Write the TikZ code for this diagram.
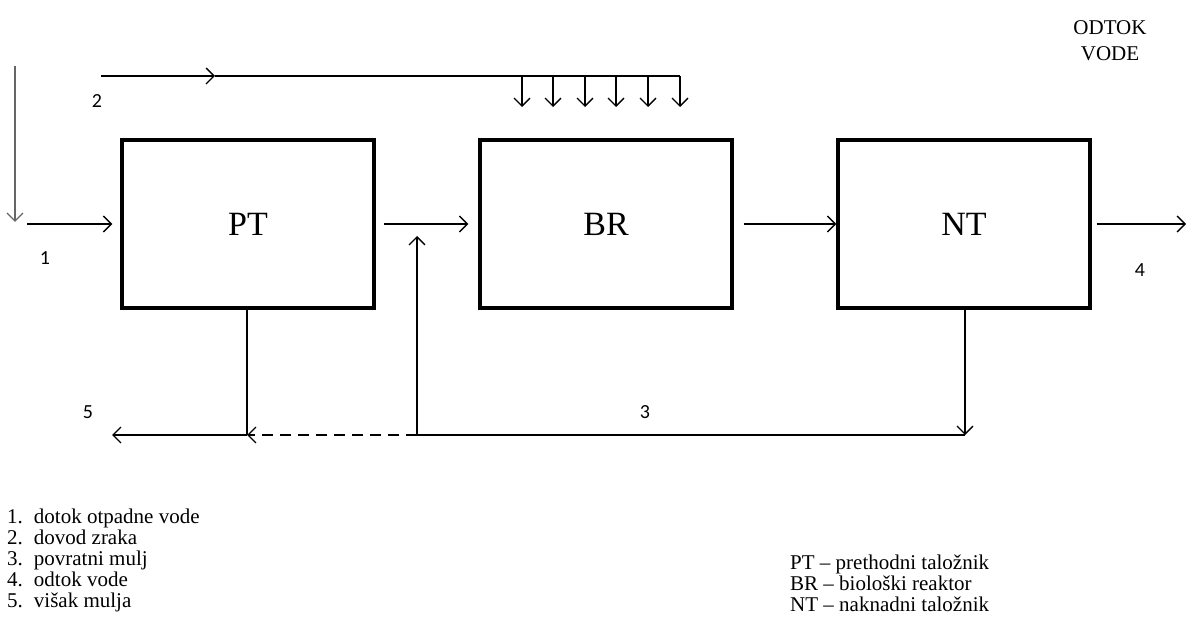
\documentclass[tikz,border=0pt]{standalone}
\usepackage{fontspec}
\setmainfont{Liberation Serif}
\newfontfamily\numfont{Carlito}
\usetikzlibrary{arrows.meta}

\begin{document}
\begin{tikzpicture}[x=1pt,y=-1pt,>={Straight Barb[length=8pt,width=16pt]},
  unit/.style={draw,line width=3.4pt,minimum width=252pt,minimum height=168pt,
    inner sep=0pt,font=\fontsize{34}{34}\selectfont},
  flow/.style={line width=1.3pt},
  num/.style={font=\numfont\fontsize{20}{20}\selectfont}]
  \useasboundingbox (0,0) rectangle (1186,636);
  % process units
  \node[unit] (PT) at (248,224) {PT};
  \node[unit] (BR) at (606,224) {BR};
  \node[unit] (NT) at (964,224) {NT};
  % free ends
  \coordinate (top) at (15,66);
  \coordinate (in) at (27,224);
  \coordinate (air) at (101,76);
  \coordinate (airmid) at (215,76);
  \coordinate (airend) at (680,76);
  \coordinate (mix) at (384,224);
  \coordinate (back) at (417,435);
  \coordinate (out) at (1186,224);
  \coordinate (PTdown) at (247,435);
  \coordinate (NTdown) at (965,435);
  \coordinate (waste) at (112,435);
  % inflow
  \draw[->,flow,gray!80!black] (top)--(15,222);
  \draw[->,flow] (in)--([xshift=-8pt]PT.west);
  % air supply
  \draw[->,flow] (air)--(airmid);
  \draw[flow] (airmid)--(airend);
  \foreach \x in {522,553,585,616,648,680}
    \draw[->,flow] (\x,76)--(\x,107);
  % main line
  \draw[->,flow] (mix)--([xshift=-10pt]BR.west);
  \draw[->,flow] ([xshift=10pt]BR.east)--(NT.west);
  \draw[->,flow] ([xshift=5pt]NT.east)--(out);
  % return sludge
  \draw[->,flow] (NT.south -| NTdown)--(NTdown);
  \draw[flow] (NTdown)--(back);
  \draw[->,flow] (back)--(417,236);
  % excess sludge
  \draw[flow] (PT.south -| PTdown)--(PTdown);
  \draw[->,flow,dash pattern=on 11pt off 7pt] (back)--(PTdown);
  \draw[->,flow] (PTdown)--(waste);
  % labels
  \node[num] (l1) at (45,258) {1};
  \node[num] (l2) at (97,101) {2};
  \node[num] (l3) at (645,412) {3};
  \node[num] (l4) at (1140,270) {4};
  \node[num] (l5) at (88,412) {5};
  \node[font=\fontsize{21}{26}\selectfont,align=center] (odtok) at (1110,41) {ODTOK\\VODE};
  % legends
  \node[anchor=north west,inner sep=0pt,font=\fontsize{21}{21}\selectfont] (leg) at (7,509)
    {\begin{tabular}{@{}l@{\hspace{11pt}}l@{}}
      1. & dotok otpadne vode\\
      2. & dovod zraka\\
      3. & povratni mulj\\
      4. & odtok vode\\
      5. & višak mulja
    \end{tabular}};
  \node[anchor=north west,inner sep=0pt,font=\fontsize{21}{21}\selectfont,align=left] (abbr) at (790,555)
    {PT -- prethodni taložnik\\BR -- biološki reaktor\\NT -- naknadni taložnik};
\end{tikzpicture}
\end{document}
